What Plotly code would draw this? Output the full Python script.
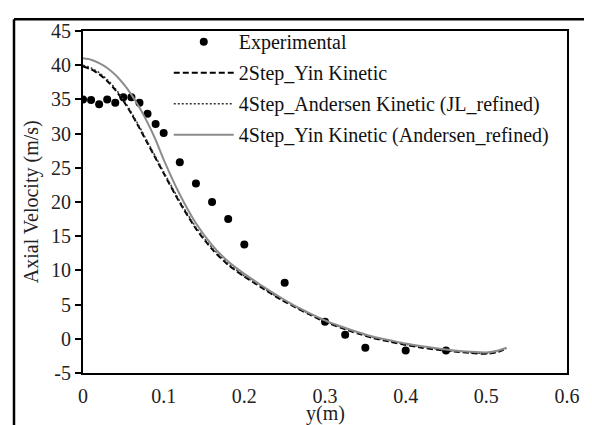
import plotly.graph_objects as go

# Experimental data
exp_x = [0.0, 0.01, 0.02, 0.03, 0.04, 0.05, 0.06, 0.07, 0.08, 0.09, 0.10,
         0.12, 0.14, 0.16, 0.18, 0.20, 0.25, 0.30, 0.325, 0.35, 0.40, 0.45]
exp_v = [35.0, 34.9, 34.3, 35.0, 34.5, 35.3, 35.3, 34.5, 32.9, 31.4, 30.1,
         25.8, 22.7, 20.0, 17.5, 13.8, 8.2, 2.5, 0.6, -1.3, -1.7, -1.7]

# Simulation results
sim_x = [0.0, 0.01, 0.02, 0.03, 0.04, 0.05, 0.06, 0.07, 0.08, 0.09, 0.10,
         0.12, 0.14, 0.16, 0.18, 0.20, 0.22, 0.24, 0.26, 0.28, 0.30,
         0.32, 0.34, 0.36, 0.38, 0.40, 0.42, 0.44, 0.46, 0.48, 0.50,
         0.515, 0.525]
yin2_v = [39.8, 39.4, 38.7, 37.7, 36.4, 34.8, 32.9, 30.8, 28.6, 26.4, 24.2,
          19.9, 16.1, 13.1, 10.8, 9.1, 7.6, 6.1, 4.8, 3.6, 2.5,
          1.6, 0.8, 0.1, -0.4, -0.9, -1.3, -1.6, -1.85, -2.05, -2.2,
          -1.9, -1.4]
andersen4_v = [40.0, 39.6, 38.9, 37.9, 36.6, 35.0, 33.1, 31.0, 28.8, 26.6, 24.4,
               20.1, 16.3, 13.3, 11.0, 9.2, 7.7, 6.2, 4.9, 3.7, 2.6,
               1.7, 0.9, 0.2, -0.3, -0.8, -1.2, -1.5, -1.8, -2.0, -2.15,
               -1.85, -1.4]
yin4_v = [41.0, 40.8, 40.3, 39.6, 38.6, 37.3, 35.7, 33.8, 31.6, 29.1, 26.2,
          21.1, 16.9, 13.7, 11.3, 9.5, 7.9, 6.4, 5.0, 3.8, 2.7,
          1.8, 1.0, 0.3, -0.2, -0.7, -1.1, -1.4, -1.7, -1.9, -2.0,
          -1.7, -1.3]

x_ticks = [0, 0.1, 0.2, 0.3, 0.4, 0.5, 0.6]
y_ticks = [-5, 0, 5, 10, 15, 20, 25, 30, 35, 40, 45]

FONT = "'Liberation Serif', 'Times New Roman', Times, serif"
FS = 20

fig = go.Figure()
fig.add_trace(go.Scatter(x=exp_x, y=exp_v, mode="markers", name="Experimental",
                         legendgroup="a",
                         marker=dict(color="black", size=8, symbol="circle")))
fig.add_trace(go.Scatter(x=sim_x, y=yin2_v, mode="lines", name="2Step_Yin Kinetic",
                         legendgroup="b",
                         line=dict(color="black", width=2, dash="6px,3px",
                                   shape="spline", smoothing=0.6)))
fig.add_trace(go.Scatter(x=sim_x, y=andersen4_v, mode="lines",
                         name="4Step_Andersen Kinetic (JL_refined)",
                         legendgroup="c",
                         line=dict(color="#333333", width=1.5, dash="2px,2px",
                                   shape="spline", smoothing=0.6)))
fig.add_trace(go.Scatter(x=sim_x, y=yin4_v, mode="lines",
                         name="4Step_Yin Kinetic (Andersen_refined)",
                         legendgroup="d",
                         line=dict(color="#8c8c8c", width=2,
                                   shape="spline", smoothing=0.6)))

# page has an 8px body margin: figure is 584x417 and offset by 8px
W, H = 584, 417
L, R, T, B = 75, 18, 18, 52
PW, PH = W - L - R, H - T - B
fx = lambda px: (px - 8 - L) / PW          # page px -> paper x
fy = lambda py: (H - B - (py - 8)) / PH     # page py -> paper y

fig.update_layout(
    width=W, height=H,
    margin=dict(l=L, r=R, t=T, b=B, pad=0),
    paper_bgcolor="white", plot_bgcolor="white",
    font=dict(family=FONT, size=FS, color="black"),
    showlegend=True,
    legend=dict(x=fx(170), y=fy(17), xanchor="left", yanchor="top",
                bgcolor="rgba(0,0,0,0)", borderwidth=0,
                font=dict(family=FONT, size=FS, color="#111"),
                itemwidth=60, tracegroupgap=2, traceorder="grouped"),
    xaxis=dict(range=[0, 0.6], tickvals=x_ticks, ticktext=[str(v) for v in x_ticks],
               showgrid=False, zeroline=False, showline=True, linecolor="black",
               linewidth=2, mirror=True, ticks="", ticklabelstandoff=4,
               tickfont=dict(family=FONT, size=FS, color="#222")),
    yaxis=dict(range=[-5, 45], tickvals=y_ticks, ticktext=[str(v) for v in y_ticks],
               showgrid=False, zeroline=False,
               showline=True, linecolor="black", linewidth=2, mirror=True,
               ticks="outside", ticklen=6, tickwidth=1.5, tickcolor="black",
               tickfont=dict(family=FONT, size=FS, color="#222")),
    annotations=[
        dict(text="Axial Velocity (m/s)", textangle=-90, xref="paper", yref="paper",
             x=fx(31), y=fy(199), showarrow=False, xanchor="center", yanchor="middle",
             font=dict(family=FONT, size=FS, color="#222")),
        dict(text="y(m)", xref="paper", yref="paper", x=0.5, y=fy(414),
             showarrow=False, xanchor="center", yanchor="middle",
             font=dict(family=FONT, size=FS, color="#222")),
    ],
    shapes=[
        dict(type="line", xref="paper", yref="paper", layer="above",
             x0=fx(13), x1=fx(600), y0=fy(14), y1=fy(14),
             line=dict(color="black", width=2.5)),
        dict(type="line", xref="paper", yref="paper", layer="above",
             x0=fx(13), x1=fx(13), y0=fy(14), y1=fy(440),
             line=dict(color="black", width=2.5)),
    ],
)

fig.write_html("out.html")
